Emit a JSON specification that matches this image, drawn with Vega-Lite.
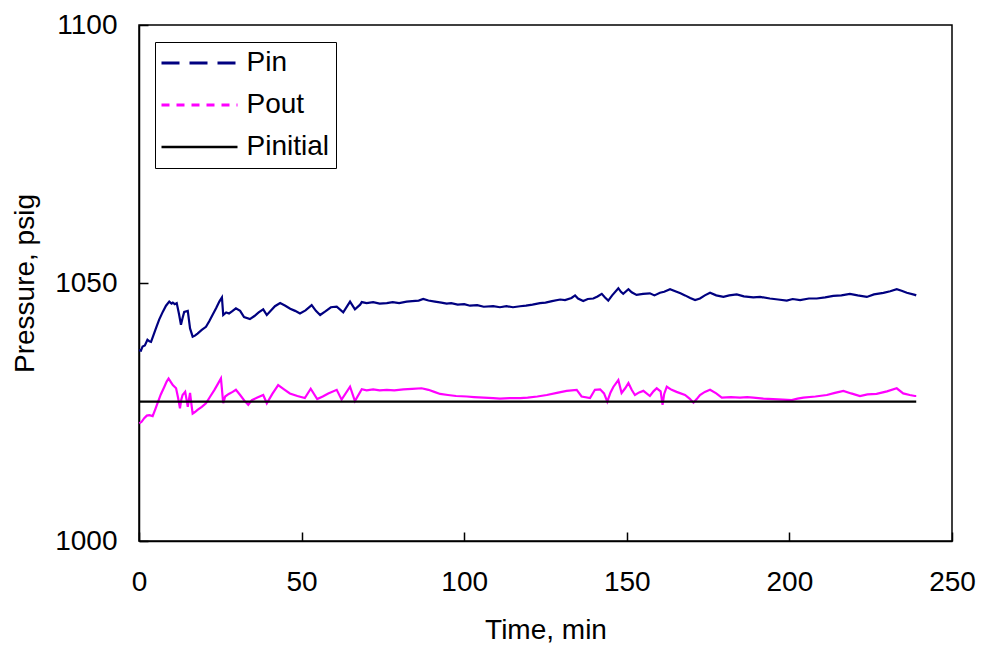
{
  "$schema": "https://vega.github.io/schema/vega-lite/v6.json",
  "width": 813,
  "height": 516,
  "autosize": {"type": "none"},
  "padding": {"left": 139, "top": 25, "right": 31, "bottom": 108},
  "background": "white",
  "config": {
    "font": "Liberation Sans",
    "view": {"stroke": "black", "strokeWidth": 1.5},
    "axis": {
      "domainColor": "black",
      "domainWidth": 1.5,
      "tickColor": "black",
      "tickWidth": 1.5,
      "tickSize": -9,
      "labelFlush": false,
      "grid": false,
      "labelFont": "Liberation Sans",
      "labelFontSize": 28,
      "labelColor": "black",
      "titleFont": "Liberation Sans",
      "titleFontSize": 28,
      "titleFontWeight": "normal",
      "titleColor": "black"
    }
  },
  "datasets": {
    "pressure": [
      {"series": "Pin", "t": 0, "p": 1037.0}, {"series": "Pin", "t": 0.6, "p": 1036.9}, {"series": "Pin", "t": 1.1, "p": 1037.7},
      {"series": "Pin", "t": 1.8, "p": 1037.9}, {"series": "Pin", "t": 2.6, "p": 1039.0}, {"series": "Pin", "t": 3.2, "p": 1038.7},
      {"series": "Pin", "t": 3.7, "p": 1038.6}, {"series": "Pin", "t": 4.4, "p": 1039.8}, {"series": "Pin", "t": 5.2, "p": 1041.2},
      {"series": "Pin", "t": 6.2, "p": 1042.9}, {"series": "Pin", "t": 7.3, "p": 1044.4}, {"series": "Pin", "t": 8.3, "p": 1045.6},
      {"series": "Pin", "t": 9.3, "p": 1046.4}, {"series": "Pin", "t": 10.0, "p": 1046.0}, {"series": "Pin", "t": 10.4, "p": 1046.2},
      {"series": "Pin", "t": 11.0, "p": 1045.9}, {"series": "Pin", "t": 11.6, "p": 1046.1}, {"series": "Pin", "t": 12.3, "p": 1044.0},
      {"series": "Pin", "t": 12.9, "p": 1041.9}, {"series": "Pin", "t": 13.4, "p": 1043.2}, {"series": "Pin", "t": 13.9, "p": 1044.4},
      {"series": "Pin", "t": 15.0, "p": 1044.6}, {"series": "Pin", "t": 15.7, "p": 1041.2}, {"series": "Pin", "t": 16.5, "p": 1039.6},
      {"series": "Pin", "t": 17.2, "p": 1039.8}, {"series": "Pin", "t": 18.0, "p": 1040.2}, {"series": "Pin", "t": 19.3, "p": 1040.9},
      {"series": "Pin", "t": 20.6, "p": 1041.5}, {"series": "Pin", "t": 21.6, "p": 1042.6}, {"series": "Pin", "t": 22.6, "p": 1043.8},
      {"series": "Pin", "t": 23.7, "p": 1045.1}, {"series": "Pin", "t": 24.7, "p": 1046.4}, {"series": "Pin", "t": 25.5, "p": 1047.2},
      {"series": "Pin", "t": 25.9, "p": 1043.8}, {"series": "Pin", "t": 26.8, "p": 1044.3}, {"series": "Pin", "t": 27.7, "p": 1044.1},
      {"series": "Pin", "t": 28.8, "p": 1044.6}, {"series": "Pin", "t": 29.8, "p": 1045.1}, {"series": "Pin", "t": 31.1, "p": 1044.6},
      {"series": "Pin", "t": 32.3, "p": 1043.4}, {"series": "Pin", "t": 34.1, "p": 1043.0}, {"series": "Pin", "t": 35.5, "p": 1043.6},
      {"series": "Pin", "t": 36.8, "p": 1044.3}, {"series": "Pin", "t": 38.2, "p": 1044.9}, {"series": "Pin", "t": 39.3, "p": 1043.8},
      {"series": "Pin", "t": 40.5, "p": 1044.6}, {"series": "Pin", "t": 41.8, "p": 1045.5}, {"series": "Pin", "t": 43.4, "p": 1046.1},
      {"series": "Pin", "t": 45.0, "p": 1045.6}, {"series": "Pin", "t": 46.5, "p": 1045.0}, {"series": "Pin", "t": 48.0, "p": 1044.6},
      {"series": "Pin", "t": 49.5, "p": 1044.1}, {"series": "Pin", "t": 51.2, "p": 1044.7}, {"series": "Pin", "t": 53.1, "p": 1045.7},
      {"series": "Pin", "t": 54.4, "p": 1044.6}, {"series": "Pin", "t": 55.7, "p": 1043.8}, {"series": "Pin", "t": 57.3, "p": 1044.5},
      {"series": "Pin", "t": 59.0, "p": 1045.3}, {"series": "Pin", "t": 60.8, "p": 1045.4}, {"series": "Pin", "t": 62.8, "p": 1044.3},
      {"series": "Pin", "t": 64.9, "p": 1046.4}, {"series": "Pin", "t": 66.4, "p": 1044.9}, {"series": "Pin", "t": 68.0, "p": 1045.8},
      {"series": "Pin", "t": 68.5, "p": 1046.3}, {"series": "Pin", "t": 70, "p": 1046.1}, {"series": "Pin", "t": 72, "p": 1046.3},
      {"series": "Pin", "t": 74, "p": 1046.0}, {"series": "Pin", "t": 76.2, "p": 1046.1}, {"series": "Pin", "t": 78, "p": 1046.3},
      {"series": "Pin", "t": 80, "p": 1046.1}, {"series": "Pin", "t": 82.3, "p": 1046.4}, {"series": "Pin", "t": 84, "p": 1046.5},
      {"series": "Pin", "t": 86, "p": 1046.6}, {"series": "Pin", "t": 87.4, "p": 1046.9}, {"series": "Pin", "t": 89, "p": 1046.6},
      {"series": "Pin", "t": 91, "p": 1046.4}, {"series": "Pin", "t": 93, "p": 1046.2}, {"series": "Pin", "t": 94.6, "p": 1046.0},
      {"series": "Pin", "t": 96, "p": 1046.1}, {"series": "Pin", "t": 98, "p": 1045.8}, {"series": "Pin", "t": 100, "p": 1045.9},
      {"series": "Pin", "t": 101.8, "p": 1045.6}, {"series": "Pin", "t": 104, "p": 1045.7}, {"series": "Pin", "t": 106, "p": 1045.4},
      {"series": "Pin", "t": 108.9, "p": 1045.5}, {"series": "Pin", "t": 111, "p": 1045.3}, {"series": "Pin", "t": 113, "p": 1045.5},
      {"series": "Pin", "t": 115, "p": 1045.3}, {"series": "Pin", "t": 117.2, "p": 1045.5}, {"series": "Pin", "t": 119, "p": 1045.6},
      {"series": "Pin", "t": 121, "p": 1045.8}, {"series": "Pin", "t": 123.3, "p": 1046.1}, {"series": "Pin", "t": 125, "p": 1046.2},
      {"series": "Pin", "t": 127, "p": 1046.5}, {"series": "Pin", "t": 129.5, "p": 1046.8}, {"series": "Pin", "t": 131, "p": 1046.7},
      {"series": "Pin", "t": 133, "p": 1047.1}, {"series": "Pin", "t": 134.1, "p": 1047.6}, {"series": "Pin", "t": 135, "p": 1047.0},
      {"series": "Pin", "t": 136.6, "p": 1046.5}, {"series": "Pin", "t": 138, "p": 1046.9}, {"series": "Pin", "t": 139.7, "p": 1047.0},
      {"series": "Pin", "t": 141, "p": 1047.4}, {"series": "Pin", "t": 142.3, "p": 1047.9}, {"series": "Pin", "t": 143.3, "p": 1047.2},
      {"series": "Pin", "t": 144.3, "p": 1046.6}, {"series": "Pin", "t": 145.5, "p": 1047.6}, {"series": "Pin", "t": 147.4, "p": 1049.0},
      {"series": "Pin", "t": 148.2, "p": 1048.3}, {"series": "Pin", "t": 148.9, "p": 1047.9}, {"series": "Pin", "t": 150.5, "p": 1048.8},
      {"series": "Pin", "t": 151.5, "p": 1048.2}, {"series": "Pin", "t": 153.0, "p": 1047.7}, {"series": "Pin", "t": 155, "p": 1047.9},
      {"series": "Pin", "t": 157.1, "p": 1048.0}, {"series": "Pin", "t": 158.5, "p": 1047.6}, {"series": "Pin", "t": 160.2, "p": 1048.1},
      {"series": "Pin", "t": 161.5, "p": 1048.3}, {"series": "Pin", "t": 163.3, "p": 1048.8}, {"series": "Pin", "t": 165.3, "p": 1048.3},
      {"series": "Pin", "t": 166.5, "p": 1048.0}, {"series": "Pin", "t": 167.9, "p": 1047.6}, {"series": "Pin", "t": 169.5, "p": 1047.1},
      {"series": "Pin", "t": 171.0, "p": 1046.7}, {"series": "Pin", "t": 172.5, "p": 1047.0}, {"series": "Pin", "t": 174, "p": 1047.6},
      {"series": "Pin", "t": 175.6, "p": 1048.1}, {"series": "Pin", "t": 177.5, "p": 1047.6}, {"series": "Pin", "t": 179.7, "p": 1047.3},
      {"series": "Pin", "t": 181.5, "p": 1047.6}, {"series": "Pin", "t": 183.8, "p": 1047.8}, {"series": "Pin", "t": 186, "p": 1047.4},
      {"series": "Pin", "t": 188.9, "p": 1047.2}, {"series": "Pin", "t": 191, "p": 1047.3}, {"series": "Pin", "t": 194.0, "p": 1047.0},
      {"series": "Pin", "t": 196.5, "p": 1046.8}, {"series": "Pin", "t": 199.2, "p": 1046.6}, {"series": "Pin", "t": 201, "p": 1046.9},
      {"series": "Pin", "t": 203.3, "p": 1046.7}, {"series": "Pin", "t": 206, "p": 1047.0}, {"series": "Pin", "t": 208.4, "p": 1047.0},
      {"series": "Pin", "t": 211, "p": 1047.2}, {"series": "Pin", "t": 213.5, "p": 1047.5}, {"series": "Pin", "t": 216, "p": 1047.6},
      {"series": "Pin", "t": 218.6, "p": 1047.9}, {"series": "Pin", "t": 221, "p": 1047.6}, {"series": "Pin", "t": 223.8, "p": 1047.3},
      {"series": "Pin", "t": 226, "p": 1047.8}, {"series": "Pin", "t": 228.9, "p": 1048.1}, {"series": "Pin", "t": 231, "p": 1048.4},
      {"series": "Pin", "t": 233.0, "p": 1048.8}, {"series": "Pin", "t": 234.5, "p": 1048.5}, {"series": "Pin", "t": 236.1, "p": 1048.1},
      {"series": "Pin", "t": 238.6, "p": 1047.7}, {"series": "Pin", "t": 239, "p": 1047.6},

      {"series": "Pout", "t": 0.1, "p": 1022.8}, {"series": "Pout", "t": 0.8, "p": 1023.1}, {"series": "Pout", "t": 1.6, "p": 1023.8},
      {"series": "Pout", "t": 2.4, "p": 1024.3}, {"series": "Pout", "t": 3.2, "p": 1024.4}, {"series": "Pout", "t": 4.2, "p": 1024.2},
      {"series": "Pout", "t": 5.0, "p": 1025.5}, {"series": "Pout", "t": 5.7, "p": 1026.7}, {"series": "Pout", "t": 6.7, "p": 1028.4},
      {"series": "Pout", "t": 7.8, "p": 1029.9}, {"series": "Pout", "t": 8.5, "p": 1030.9}, {"series": "Pout", "t": 9.1, "p": 1031.5},
      {"series": "Pout", "t": 9.8, "p": 1030.8}, {"series": "Pout", "t": 10.4, "p": 1030.2}, {"series": "Pout", "t": 11.4, "p": 1029.6},
      {"series": "Pout", "t": 12.0, "p": 1027.8}, {"series": "Pout", "t": 12.6, "p": 1025.7}, {"series": "Pout", "t": 13.0, "p": 1027.4},
      {"series": "Pout", "t": 13.4, "p": 1028.3}, {"series": "Pout", "t": 14.2, "p": 1028.9}, {"series": "Pout", "t": 14.6, "p": 1027.5},
      {"series": "Pout", "t": 15.0, "p": 1026.0}, {"series": "Pout", "t": 15.4, "p": 1027.6}, {"series": "Pout", "t": 15.7, "p": 1028.7},
      {"series": "Pout", "t": 16.1, "p": 1026.6}, {"series": "Pout", "t": 16.5, "p": 1024.7}, {"series": "Pout", "t": 17.2, "p": 1025.0},
      {"series": "Pout", "t": 18.0, "p": 1025.4}, {"series": "Pout", "t": 19.3, "p": 1026.0}, {"series": "Pout", "t": 20.6, "p": 1026.7},
      {"series": "Pout", "t": 21.9, "p": 1028.0}, {"series": "Pout", "t": 23.2, "p": 1029.3}, {"series": "Pout", "t": 24.3, "p": 1030.5},
      {"series": "Pout", "t": 25.2, "p": 1031.5}, {"series": "Pout", "t": 25.9, "p": 1026.7}, {"series": "Pout", "t": 26.5, "p": 1028.0},
      {"series": "Pout", "t": 27.6, "p": 1028.5}, {"series": "Pout", "t": 28.8, "p": 1028.9}, {"series": "Pout", "t": 29.8, "p": 1029.3},
      {"series": "Pout", "t": 31.1, "p": 1028.3}, {"series": "Pout", "t": 32.4, "p": 1027.2}, {"series": "Pout", "t": 33.6, "p": 1026.4},
      {"series": "Pout", "t": 34.7, "p": 1027.3}, {"series": "Pout", "t": 36.4, "p": 1027.8}, {"series": "Pout", "t": 38.2, "p": 1028.3},
      {"series": "Pout", "t": 39.3, "p": 1026.7}, {"series": "Pout", "t": 41.0, "p": 1028.5}, {"series": "Pout", "t": 42.8, "p": 1030.2},
      {"series": "Pout", "t": 44.6, "p": 1029.4}, {"series": "Pout", "t": 46.4, "p": 1028.6}, {"series": "Pout", "t": 48.7, "p": 1028.1},
      {"series": "Pout", "t": 51.0, "p": 1027.7}, {"series": "Pout", "t": 52.8, "p": 1029.5}, {"series": "Pout", "t": 54.8, "p": 1027.5},
      {"series": "Pout", "t": 56.5, "p": 1028.0}, {"series": "Pout", "t": 58.2, "p": 1028.6}, {"series": "Pout", "t": 60.8, "p": 1029.3},
      {"series": "Pout", "t": 62.3, "p": 1027.4}, {"series": "Pout", "t": 64.9, "p": 1029.9}, {"series": "Pout", "t": 66.4, "p": 1027.1},
      {"series": "Pout", "t": 68.5, "p": 1029.4}, {"series": "Pout", "t": 70, "p": 1029.2}, {"series": "Pout", "t": 72, "p": 1029.4},
      {"series": "Pout", "t": 74, "p": 1029.2}, {"series": "Pout", "t": 76.2, "p": 1029.3}, {"series": "Pout", "t": 78.5, "p": 1029.2},
      {"series": "Pout", "t": 81.3, "p": 1029.4}, {"series": "Pout", "t": 84, "p": 1029.5}, {"series": "Pout", "t": 86.9, "p": 1029.6},
      {"series": "Pout", "t": 89, "p": 1029.3}, {"series": "Pout", "t": 90.8, "p": 1028.9}, {"series": "Pout", "t": 92.6, "p": 1028.5},
      {"series": "Pout", "t": 95, "p": 1028.3}, {"series": "Pout", "t": 97.5, "p": 1028.1}, {"series": "Pout", "t": 100.8, "p": 1028.0},
      {"series": "Pout", "t": 103, "p": 1027.9}, {"series": "Pout", "t": 106, "p": 1027.8}, {"series": "Pout", "t": 108.9, "p": 1027.7},
      {"series": "Pout", "t": 111, "p": 1027.6}, {"series": "Pout", "t": 114, "p": 1027.7}, {"series": "Pout", "t": 117.2, "p": 1027.7},
      {"series": "Pout", "t": 119.5, "p": 1027.8}, {"series": "Pout", "t": 122.5, "p": 1028.0}, {"series": "Pout", "t": 125.4, "p": 1028.3},
      {"series": "Pout", "t": 128.5, "p": 1028.7}, {"series": "Pout", "t": 131.5, "p": 1029.1}, {"series": "Pout", "t": 134.6, "p": 1029.3},
      {"series": "Pout", "t": 136.1, "p": 1028.0}, {"series": "Pout", "t": 138.7, "p": 1027.7}, {"series": "Pout", "t": 140.2, "p": 1029.3},
      {"series": "Pout", "t": 141.8, "p": 1029.4}, {"series": "Pout", "t": 143.0, "p": 1028.6}, {"series": "Pout", "t": 144.0, "p": 1027.0},
      {"series": "Pout", "t": 145.0, "p": 1028.8}, {"series": "Pout", "t": 145.9, "p": 1029.9}, {"series": "Pout", "t": 147.4, "p": 1031.2},
      {"series": "Pout", "t": 148.4, "p": 1028.7}, {"series": "Pout", "t": 149.5, "p": 1029.6}, {"series": "Pout", "t": 150.5, "p": 1030.6},
      {"series": "Pout", "t": 151.5, "p": 1029.3}, {"series": "Pout", "t": 152.5, "p": 1028.3}, {"series": "Pout", "t": 153.8, "p": 1028.8},
      {"series": "Pout", "t": 155.1, "p": 1029.1}, {"series": "Pout", "t": 157.1, "p": 1028.1}, {"series": "Pout", "t": 158.2, "p": 1029.0},
      {"series": "Pout", "t": 159.2, "p": 1029.6}, {"series": "Pout", "t": 160.4, "p": 1029.0}, {"series": "Pout", "t": 161.0, "p": 1026.4},
      {"series": "Pout", "t": 161.5, "p": 1028.5}, {"series": "Pout", "t": 162.3, "p": 1029.9}, {"series": "Pout", "t": 163.8, "p": 1029.3},
      {"series": "Pout", "t": 165.3, "p": 1028.9}, {"series": "Pout", "t": 167.9, "p": 1028.3}, {"series": "Pout", "t": 169.3, "p": 1027.6},
      {"series": "Pout", "t": 170.5, "p": 1026.8}, {"series": "Pout", "t": 171.5, "p": 1027.5}, {"series": "Pout", "t": 172.5, "p": 1028.3},
      {"series": "Pout", "t": 174, "p": 1028.9}, {"series": "Pout", "t": 175.6, "p": 1029.3}, {"series": "Pout", "t": 177.5, "p": 1028.6},
      {"series": "Pout", "t": 179.2, "p": 1027.8}, {"series": "Pout", "t": 182, "p": 1027.9}, {"series": "Pout", "t": 184.8, "p": 1027.8},
      {"series": "Pout", "t": 187, "p": 1027.9}, {"series": "Pout", "t": 188.9, "p": 1027.8}, {"series": "Pout", "t": 192, "p": 1027.6},
      {"series": "Pout", "t": 195.0, "p": 1027.5}, {"series": "Pout", "t": 198, "p": 1027.4}, {"series": "Pout", "t": 200.7, "p": 1027.3},
      {"series": "Pout", "t": 202.5, "p": 1027.6}, {"series": "Pout", "t": 204.3, "p": 1027.8}, {"series": "Pout", "t": 208, "p": 1028.0},
      {"series": "Pout", "t": 211.5, "p": 1028.3}, {"series": "Pout", "t": 214, "p": 1028.7}, {"series": "Pout", "t": 216.6, "p": 1029.1},
      {"series": "Pout", "t": 219, "p": 1028.6}, {"series": "Pout", "t": 221.7, "p": 1028.1}, {"series": "Pout", "t": 224, "p": 1028.4},
      {"series": "Pout", "t": 226.8, "p": 1028.5}, {"series": "Pout", "t": 230, "p": 1029.0}, {"series": "Pout", "t": 233.0, "p": 1029.6},
      {"series": "Pout", "t": 235.0, "p": 1028.6}, {"series": "Pout", "t": 237, "p": 1028.3}, {"series": "Pout", "t": 238.6, "p": 1028.1},
      {"series": "Pout", "t": 239, "p": 1028.1},

      {"series": "Pinitial", "t": 0, "p": 1027.0}, {"series": "Pinitial", "t": 239, "p": 1027.0}
    ]
  },
  "data": {"name": "pressure"},
  "mark": {"type": "line", "strokeWidth": 2.2, "interpolate": "linear"},
  "encoding": {
    "x": {
      "field": "t",
      "type": "quantitative",
      "scale": {"domain": [0, 250], "nice": false},
      "axis": {
        "values": [0, 50, 100, 150, 200, 250],
        "title": "Time, min",
        "labelPadding": 36,
        "titleBaseline": "alphabetic",
        "titleY": 97,
        "titleX": 406.5
      }
    },
    "y": {
      "field": "p",
      "type": "quantitative",
      "scale": {"domain": [1000, 1100], "zero": false, "nice": false},
      "axis": {
        "values": [1000, 1050, 1100],
        "format": "d",
        "title": "Pressure, psig",
        "labelPadding": 31,
        "titleBaseline": "alphabetic",
        "titleX": -106,
        "titleY": 258
      }
    },
    "color": {
      "field": "series",
      "type": "nominal",
      "scale": {"domain": ["Pin", "Pout", "Pinitial"], "range": ["#000080", "#FF00FF", "#000000"]},
      "legend": {
        "title": null,
        "orient": "none",
        "legendX": 16,
        "legendY": 17,
        "direction": "vertical",
        "fillColor": "white",
        "strokeColor": "black",
        "padding": 7,
        "labelFont": "Liberation Sans",
        "labelFontSize": 28,
        "labelColor": "black",
        "labelLimit": 300,
        "symbolType": "M-4,0H4",
        "symbolSize": 361,
        "symbolStrokeWidth": 3,
        "symbolOffset": 23.5,
        "labelOffset": 33,
        "rowPadding": 14,
        "encode": {
          "symbols": {
            "update": {
              "strokeDash": {"signal": "datum.value === 'Pin' ? [18, 10] : datum.value === 'Pout' ? [8, 7] : [1, 0]"},
              "strokeWidth": {"signal": "datum.value === 'Pinitial' ? 2.5 : 3"}
            }
          }
        }
      }
    }
  }
}
